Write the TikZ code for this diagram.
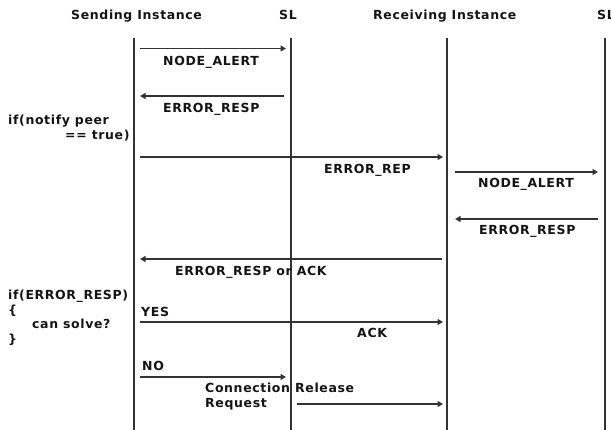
\documentclass[tikz,border=0pt]{standalone}
\usepackage{fontspec}
\setmainfont{DejaVu Sans}[LetterSpace=5]
\usetikzlibrary{arrows.meta}
\begin{document}
\begin{tikzpicture}[x=1pt,y=-1pt,
  lbl/.style={anchor=base west,inner sep=0pt,font=\bfseries\fontsize{12.5}{14.5}\selectfont,text=black!92},
  life/.style={draw=black!80,line width=1.4pt},
  msg/.style={draw=black!80,line width=1.3pt,-{Triangle[length=5.5pt,width=6pt]}}]
\useasboundingbox (0,0) rectangle (611,430);

% column headings
\node[lbl] (hSend) at (71,20) {Sending Instance};
\node[lbl] (hSL1)  at (279,20) {SL};
\node[lbl] (hRecv) at (373,20) {Receiving Instance};
\node[lbl] (hSL2)  at (597,20) {SL};

% lifelines
\coordinate (sTop) at (134,38);  \coordinate (sBot) at (134,430);
\coordinate (aTop) at (291,38);  \coordinate (aBot) at (291,430);
\coordinate (rTop) at (447,38);  \coordinate (rBot) at (447,430);
\coordinate (bTop) at (605,38);  \coordinate (bBot) at (605,430);
\draw[life] (sTop) -- (sBot);
\draw[life] (aTop) -- (aBot);
\draw[life] (rTop) -- (rBot);
\draw[life] (bTop) -- (bBot);

% message end points
\coordinate (m1a) at (140,48.5); \coordinate (m1b) at (286,48.5);
\coordinate (m2a) at (284,96);   \coordinate (m2b) at (140,96);
\coordinate (m3a) at (140,157);  \coordinate (m3b) at (443,157);
\coordinate (m4a) at (455,172);  \coordinate (m4b) at (598,172);
\coordinate (m5a) at (598,219);  \coordinate (m5b) at (455,219);
\coordinate (m6a) at (442,259);  \coordinate (m6b) at (140,259);
\coordinate (m7a) at (140,322);  \coordinate (m7b) at (443,322);
\coordinate (m8a) at (140,377);  \coordinate (m8b) at (286,377);
\coordinate (m9a) at (297,404);  \coordinate (m9b) at (443,404);

% messages
\draw[msg] (m1a) -- (m1b);
\draw[msg] (m2a) -- (m2b);
\draw[msg] (m3a) -- (m3b);
\draw[msg] (m4a) -- (m4b);
\draw[msg] (m5a) -- (m5b);
\draw[msg] (m6a) -- (m6b);
\draw[msg] (m7a) -- (m7b);
\draw[msg] (m8a) -- (m8b);
\draw[msg] (m9a) -- (m9b);

% message labels
\node[lbl] (l1) at (163,65.5) {NODE\_ALERT};
\node[lbl] (l2) at (163,113) {ERROR\_RESP};
\node[lbl] (l3) at (324,174) {ERROR\_REP};
\node[lbl] (l4) at (478,188) {NODE\_ALERT};
\node[lbl] (l5) at (479,235) {ERROR\_RESP};
\node[lbl] (l6) at (175,276) {ERROR\_RESP or ACK};
\node[lbl] (l7) at (141,316.5) {YES};
\node[lbl] (l8) at (357,338) {ACK};
\node[lbl] (l9) at (142,371) {NO};
\node[lbl] (l10a) at (205,393) {Connection};
\node[lbl] (l10b) at (295,393) {Release};
\node[lbl] (l10c) at (205,407.5) {Request};

% conditions on the left
\node[lbl] (c1a) at (8,125) {if(notify peer};
\node[lbl] (c1b) at (65,139.5) {== true)};
\node[lbl] (c2a) at (8,300) {if(ERROR\_RESP)};
\node[lbl] (c2b) at (8,314.5) {\{};
\node[lbl] (c2c) at (32,329) {can solve?};
\node[lbl] (c2d) at (8,343.5) {\}};
\end{tikzpicture}
\end{document}
